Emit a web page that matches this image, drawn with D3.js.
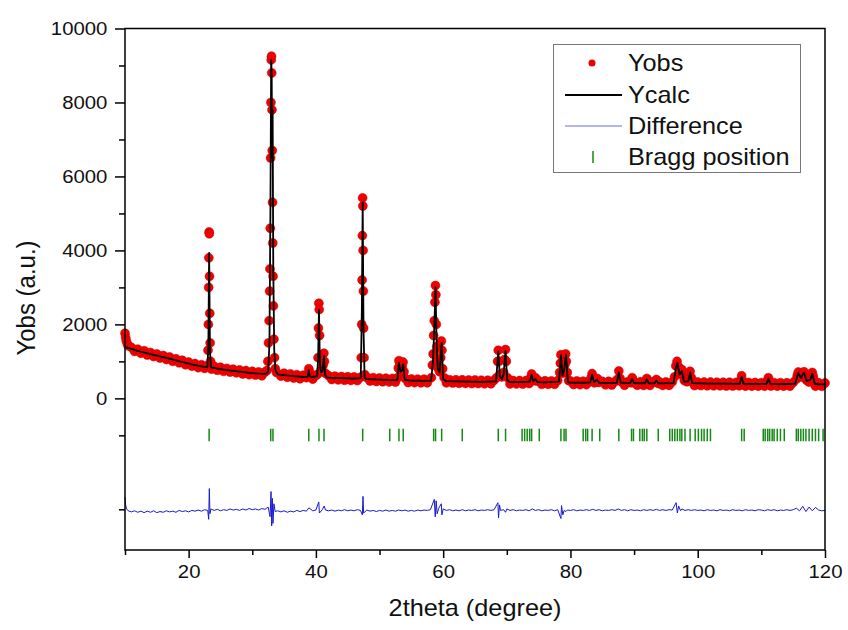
<!DOCTYPE html>
<html>
<head>
<meta charset="utf-8">
<script src="https://cdn.jsdelivr.net/npm/d3@7"></script>
<style>
  body { margin: 0; background: #fff; }
  svg text { font-family: "Liberation Sans", Arial, sans-serif; fill: #111; }
</style>
</head>
<body>
<svg width="848" height="630"></svg>
<script>
// observed intensity, [2theta, counts]
var yObs = [
  [10,1760],[10.1,1650],[10.2,1560],[10.35,1480],[10.5,1420],[11,1380],[11.5,1270],[12,1330],[12.5,1220],[13,1290],
  [13.5,1170],[14,1240],[14.5,1130],[15,1200],[15.5,1090],[16,1160],[16.5,1050],[17,1120],[17.5,1000],[18,1070],
  [18.5,960],[19,1030],[19.5,910],[20,980],[20.5,870],[21,940],[21.5,830],[22,910],[22.5,810],
  [22.9,880],[23.05,1300],[23.1,2000],[23.15,3000],[23.18,3800],[23.22,4500],[23.25,4450],[23.28,3300],[23.32,2300],[23.38,1500],[23.45,1000],[23.6,790],
  [24,870],[24.5,760],[25,840],[25.5,730],[26,810],[26.5,710],[27,790],[27.5,690],[28,770],[28.5,660],[29,750],[29.5,640],
  [30,730],[30.5,630],[31,715],[31.5,610],[32,710],
  [32.3,750],[32.45,1000],[32.55,1500],[32.65,2100],[32.72,2900],[32.78,3500],[32.83,4600],[32.88,6500],[32.93,8000],[32.98,9150],
  [33.02,9250],[33.06,8800],[33.1,7800],[33.14,6700],[33.18,5300],[33.22,4200],[33.27,3300],[33.32,2500],[33.4,1600],[33.5,1100],[33.62,800],[33.8,700],
  [34.5,600],[35,680],[35.5,570],[36,660],[36.5,550],[37,640],[37.5,530],[38,625],[38.5,560],
  [38.75,650],[38.88,800],[39.0,720],[39.5,520],[40,620],[40.2,640],
  [40.33,1100],[40.4,1900],[40.46,2570],[40.52,2400],[40.58,1700],[40.66,1100],[40.8,760],[41.0,720],[41.15,900],[41.25,1220],[41.35,1000],[41.5,680],
  [42,610],[42.5,510],[43,600],[43.5,500],[44,590],[44.5,490],[45,585],[45.5,485],[46,580],[46.5,480],[47,570],
  [47.12,1100],[47.2,2000],[47.26,3200],[47.3,4400],[47.34,5420],[47.38,5200],[47.42,4000],[47.46,2900],[47.5,1900],[47.57,1100],[47.7,640],
  [48,565],[48.5,470],[49,560],[49.5,455],[50,550],[50.5,450],[51,545],[51.5,445],[52,540],[52.5,440],
  [52.85,560],[52.95,820],[53.05,1020],[53.2,900],[53.35,720],[53.55,860],[53.7,980],[53.85,720],[54.0,540],
  [54.5,430],[55,525],[55.5,425],[56,520],[56.5,420],[57,520],[57.5,420],
  [58.15,560],[58.3,900],[58.42,1200],[58.5,1700],[58.6,2100],[58.7,2600],[58.78,3050],[58.85,2800],[58.92,2000],[59.0,1400],
  [59.1,1000],[59.25,800],[59.45,720],[59.62,1100],[59.72,1550],[59.8,1300],[59.92,800],[60.15,560],
  [60.5,420],[61,505],[61.5,415],[62,500],[62.5,410],[63,500],[63.5,405],[64,495],[64.5,400],[65,495],[65.5,400],
  [66,490],[66.5,395],[67,490],[67.5,395],[68,490],
  [68.4,560],[68.55,1000],[68.66,1300],[68.78,1000],[68.95,650],[69.2,580],[69.5,700],[69.65,1050],[69.8,1320],[69.92,1000],[70.1,560],
  [70.5,390],[71,480],[71.5,390],[72,480],[72.5,385],[73,480],[73.5,400],
  [73.75,560],[73.9,660],[74.05,540],[74.3,480],[74.5,560],[74.7,470],
  [75,475],[75.5,380],[76,475],[76.5,380],[77,470],[77.5,380],[78,480],
  [78.3,700],[78.42,950],[78.5,1180],[78.6,950],[78.75,680],[78.95,720],[79.1,900],[79.25,1200],[79.35,1000],[79.5,700],[79.7,480],
  [80,470],[80.5,375],[81,470],[81.5,370],[82,465],[82.5,370],[83,470],
  [83.25,560],[83.4,670],[83.55,540],[83.75,420],[84,470],[84.2,540],[84.4,430],
  [85,460],[85.5,365],[86,460],[86.5,360],[87,455],[87.4,520],[87.6,740],[87.8,540],[88,450],[88.5,355],
  [89,450],[89.5,420],[89.7,560],[89.9,430],[90,455],[90.5,355],[91,450],[91.5,350],[92,540],[92.2,470],
  [92.5,350],[93,445],[93.5,510],[93.8,400],[94,445],[94.5,350],[95,445],[95.5,350],[96,445],
  [96.35,580],[96.55,880],[96.75,1000],[96.95,860],[97.15,680],[97.35,700],[97.5,780],[97.7,600],[97.9,480],[98.3,450],
  [98.6,620],[98.8,730],[99.0,560],[99.3,420],
  [99.5,345],[100,440],[100.5,345],[101,440],[101.5,340],[102,440],[102.5,340],[103,435],[103.5,340],[104,435],
  [104.5,335],[105,435],[105.5,335],[106,430],[106.5,340],
  [106.75,500],[106.9,610],[107.05,480],[107.5,330],[108,430],[108.5,330],[109,430],[109.5,330],[110,425],[110.5,330],
  [110.95,480],[111.1,560],[111.25,470],[111.5,335],[112,425],[112.5,330],[113,425],[113.5,330],[114,420],[114.5,330],[115,430],
  [115.5,520],[115.65,620],[115.8,710],[115.95,640],[116.1,600],[116.3,580],[116.5,640],[116.7,720],[116.85,620],[117.05,500],
  [117.3,470],[117.5,440],[117.7,560],[117.85,650],[118.0,700],[118.15,600],[118.35,470],
  [118.5,330],[119,420],[119.5,325],[120,415]
];

// calculated profile, [2theta, counts]
var yCalc = [
  [10,1390],[11,1335],[12,1285],[13,1240],[14,1196],[15,1155],[16,1115],[17,1073],[18,1028],[19,983],[20,938],[21,896],[22,866],
  [22.95,845],[23.1,1400],[23.22,3930],[23.35,1300],[23.5,835],[24,822],[25,790],[26,766],[27,744],[28,722],[29,700],[30,680],
  [31,668],[32,660],[32.5,720],[32.7,1500],[32.85,5000],[32.97,9150],[33.05,8800],[33.12,6500],[33.2,7800],[33.3,3500],[33.45,1300],
  [33.65,760],[34,650],[35,628],[36,610],[37,592],[38,577],[38.7,590],[38.88,760],[39.05,590],[39.5,578],[40.2,600],[40.35,1100],
  [40.48,2400],[40.62,1000],[40.8,700],[41.05,720],[41.27,1150],[41.45,640],[41.7,568],[42,562],[43,555],[44,547],[45,540],[46,533],
  [47.05,545],[47.22,2400],[47.35,5300],[47.48,1900],[47.65,560],[48,519],[49,512],[50,505],[51,500],[52,495],[52.8,500],[53.05,960],
  [53.3,720],[53.55,760],[53.72,920],[53.95,500],[55,480],[56,477],[57,474],[58.1,480],[58.4,1000],[58.6,1900],[58.8,3000],[58.95,1600],
  [59.15,800],[59.45,700],[59.76,1500],[60.0,520],[60.5,465],[62,459],[64,453],[66,448],[68.3,460],[68.66,1270],[68.9,600],[69.2,520],
  [69.5,650],[69.8,1290],[70.05,500],[70.4,440],[72,437],[73.6,450],[73.9,630],[74.15,470],[74.5,520],[74.8,440],[76,431],[78.2,450],
  [78.5,1160],[78.75,620],[79.0,750],[79.3,1180],[79.6,440],[80,425],[82,422],[83.1,430],[83.4,640],[83.7,440],[84.2,500],[84.5,422],
  [86,418],[87.3,420],[87.6,710],[87.9,420],[89.4,412],[89.7,520],[90,412],[91.7,408],[92.0,510],[92.3,407],[93.2,405],[93.5,480],
  [93.8,404],[96.2,410],[96.55,820],[96.8,960],[97.15,640],[97.5,740],[97.85,450],[98.5,460],[98.8,700],[99.1,410],[102,398],[104,396],
  [106.6,394],[106.9,580],[107.2,393],[109,391],[110.8,390],[111.1,530],[111.4,389],[113,387],[115.3,395],[115.8,680],[116.2,560],
  [116.7,690],[117.1,470],[117.7,500],[118.0,670],[118.4,395],[119,381],[120,380]
];

// Yobs - Ycalc, [2theta, counts], drawn around diffOffset
var diffOffset = -3000;
var diff = [
  [10,330],[10.1,120],[10.25,10],[10.5,-40],[11,-70],[11.5,-40],[12,-80],[12.5,-50],[13,-90],[13.5,-50],[14,-80],[14.5,-40],
  [15,-90],[15.5,-60],[16,-80],[16.5,-40],[17,-70],[17.5,-50],[18,-80],[18.5,-30],[19,-60],[19.5,-40],[20,-70],[20.5,-30],
  [21,-50],[21.5,-20],[22,-50],[22.5,-10],[23,-30],[23.15,-270],[23.25,560],[23.35,-120],[23.5,10],[24,-30],[24.5,0],[25,-40],
  [25.5,-10],[26,-30],[26.5,10],[27,-20],[27.5,0],[28,-30],[28.5,10],[29,-20],[29.5,20],[30,-10],[30.5,10],[31,-20],[31.5,20],
  [32,0],[32.5,60],[32.8,-200],[32.95,480],[33.05,-450],[33.15,300],[33.25,-380],[33.4,150],[33.6,-60],[34,-40],[34.5,-70],
  [35,-40],[35.5,-80],[36,-50],[36.5,-70],[37,-30],[37.5,-60],[38,-30],[38.5,-50],[38.9,40],[39.5,-40],[40,-20],[40.45,200],
  [40.55,-100],[41,-10],[41.3,90],[41.5,-20],[42,-40],[42.5,-20],[43,-50],[43.5,-20],[44,-40],[44.5,-10],[45,-40],[45.5,-20],
  [46,-40],[46.5,-10],[47,-30],[47.3,-150],[47.4,350],[47.5,-100],[48,-20],[48.5,-50],[49,-30],[49.5,-60],[50,-30],[50.5,-50],
  [51,-20],[51.5,-50],[52,-30],[52.5,-50],[53,-20],[53.5,-40],[54,-20],[54.5,-50],[55,-30],[55.5,-50],[56,-20],[56.5,-40],
  [57,-20],[57.5,-30],[58,-10],[58.6,270],[58.75,-200],[58.9,230],[59.05,-120],[59.3,30],[59.7,150],[59.8,-150],[60,10],
  [60.5,-30],[61,-10],[61.5,-40],[62,-20],[62.5,-40],[63,-10],[63.5,-40],[64,-20],[64.5,-30],[65,-10],[65.5,-40],[66,-20],
  [66.5,-30],[67,-10],[67.5,-30],[68,-10],[68.6,180],[68.7,-230],[68.85,120],[69,-30],[69.5,-10],[69.8,-80],[70,10],[70.5,-30],
  [71,-10],[71.5,-40],[72,-20],[72.5,-30],[73,-10],[73.5,-40],[74,10],[74.5,-30],[75,-10],[75.5,-40],[76,-20],[76.5,-30],
  [77,-10],[77.5,-40],[78,-10],[78.5,-250],[78.6,100],[78.8,-150],[79,-30],[79.3,-60],[79.5,-20],[80,-30],[80.5,-10],[81,-40],
  [81.5,-20],[82,-30],[82.5,-10],[83,-30],[83.5,0],[84,-30],[84.5,-10],[85,-40],[85.5,-20],[86,-30],[86.5,-10],[87,-30],
  [87.5,10],[88,-30],[88.5,-10],[89,-40],[89.5,-10],[90,-30],[90.5,-20],[91,-40],[91.5,-10],[92,-30],[92.5,-10],[93,-30],
  [93.5,0],[94,-30],[94.5,-10],[95,-30],[95.5,-10],[96,-20],[96.6,180],[96.8,-100],[97,90],[97.3,-40],[97.5,10],[98,-30],
  [98.5,-10],[99,-30],[99.5,-10],[100,-30],[100.5,-20],[101,-40],[101.5,-10],[102,-30],[102.5,-20],[103,-40],[103.5,-10],
  [104,-30],[104.5,-20],[105,-40],[105.5,-10],[106,-30],[106.5,-20],[107,-40],[107.5,-10],[108,-30],[108.5,-20],[109,-40],
  [109.5,-10],[110,-20],[110.5,-40],[111,-10],[111.5,-30],[112,-10],[112.5,-40],[113,-20],[113.5,-30],[114,-10],[114.5,-30],
  [115,-10],[115.5,30],[116,-40],[116.5,80],[117,-60],[117.5,60],[118,-40],[118.5,50],[119,-20],[119.5,-40],[120,-30]
];

// reflection positions (2theta)
var braggPos = [
  23.22, 32.9, 33.25, 38.88, 40.48, 41.27, 47.35, 51.6, 53.05, 53.72, 58.5, 58.8, 59.76, 63.0,
  68.66, 69.8, 72.4, 72.8, 73.2, 73.6, 73.9, 75.1, 78.5, 79.0, 79.3, 82.0, 82.4, 82.7, 83.4, 84.6,
  87.6, 89.6, 89.9, 90.9, 91.3, 91.6, 92.0, 93.8, 95.6, 96.0, 96.4, 96.8, 97.2, 97.5, 98.0, 98.8,
  99.6, 100.1, 100.6, 101.0, 101.5, 102.0, 106.9, 107.3, 110.3, 110.6, 111.0, 111.3, 111.7, 112.0,
  112.5, 113.0, 113.6, 115.5, 115.8, 116.2, 116.6, 117.0, 117.5, 118.0, 118.5, 119.0, 119.7
];
var braggTop = -820, braggBottom = -1160;

var xMajor = [20, 40, 60, 80, 100, 120];
var xMinor = [10, 30, 50, 70, 90, 110];
var yMajor = [0, 2000, 4000, 6000, 8000, 10000];
var yMinor = [-3000, -1000, 1000, 3000, 5000, 7000, 9000];

var legendItems = ["Yobs", "Ycalc", "Difference", "Bragg position"];

function draw() {
    var svg = d3.select("svg");
    var pL = 125, pR = 825, pT = 28.5, pB = 550;
    var stretch = "scale(1.1,1)";

    var x = d3.scaleLinear().domain([10, 120]).range([pL, pR]);
    var y = d3.scaleLinear().domain([-4100, 10000]).range([pB, pT]);

    // observed points
    svg.append("g").selectAll("circle")
        .data(yObs)
        .enter().append("circle")
        .attr("cx", function(d) { return x(d[0]); })
        .attr("cy", function(d) { return y(d[1]); })
        .attr("r", 4.5)
        .style("fill", "#f00000")
        .style("stroke", "#c00000")
        .style("stroke-width", 0.5);

    // calculated line
    var line = d3.line()
        .x(function(d) { return x(d[0]); })
        .y(function(d) { return y(d[1]); });

    svg.append("path")
        .datum(yCalc)
        .attr("d", line)
        .style("fill", "none")
        .style("stroke", "#000")
        .style("stroke-width", 1.8)
        .style("stroke-linejoin", "round");

    // difference
    var diffLine = d3.line()
        .x(function(d) { return x(d[0]); })
        .y(function(d) { return y(diffOffset + d[1]); });

    svg.append("path")
        .datum(diff)
        .attr("d", diffLine)
        .style("fill", "none")
        .style("stroke", "#1a1acc")
        .style("stroke-width", 1);

    // bragg ticks
    svg.append("g").selectAll("line")
        .data(braggPos)
        .enter().append("line")
        .attr("x1", function(d) { return x(d); })
        .attr("x2", function(d) { return x(d); })
        .attr("y1", y(braggTop))
        .attr("y2", y(braggBottom))
        .style("stroke", "#138a13")
        .style("stroke-width", 1.5);

    // axes
    function styleAxis(g) {
        g.select(".domain").remove();
        g.selectAll("line").style("stroke", "#000").style("stroke-width", 1.5);
        g.selectAll("text").style("font-size", "18.5px").style("fill", "#111").attr("transform", stretch);
    }

    svg.append("g")
        .attr("transform", "translate(0," + pB + ")")
        .call(d3.axisBottom(x).tickValues(xMajor).tickSize(8).tickPadding(7).tickFormat(d3.format("d")))
        .call(styleAxis);
    svg.append("g")
        .attr("transform", "translate(0," + pB + ")")
        .call(d3.axisBottom(x).tickValues(xMinor).tickSize(5).tickFormat(""))
        .call(styleAxis);
    svg.append("g")
        .attr("transform", "translate(" + pL + ",0)")
        .call(d3.axisLeft(y).tickValues(yMajor).tickSize(10).tickPadding(6).tickFormat(d3.format("d")))
        .call(styleAxis);
    svg.append("g")
        .attr("transform", "translate(" + pL + ",0)")
        .call(d3.axisLeft(y).tickValues(yMinor).tickSize(6).tickFormat(""))
        .call(styleAxis);

    svg.append("rect")
        .attr("x", pL).attr("y", pT)
        .attr("width", pR - pL).attr("height", pB - pT)
        .style("fill", "none").style("stroke", "#000").style("stroke-width", 1.5);

    // axis titles
    svg.append("text")
        .attr("transform", "translate(" + (pL + pR) / 2 + ",616) " + stretch)
        .attr("text-anchor", "middle")
        .style("font-size", "23px")
        .text("2theta (degree)");

    svg.append("text")
        .attr("transform", "translate(35,298) " + stretch + " rotate(-90)")
        .attr("text-anchor", "middle")
        .style("font-size", "24px")
        .text("Yobs (a.u.)");

    // legend
    var lg = svg.append("g");
    lg.append("rect")
        .attr("x", 553.5).attr("y", 44.5)
        .attr("width", 247).attr("height", 128)
        .style("fill", "#fff").style("stroke", "#777").style("stroke-width", 1);

    var rowY = [63, 95, 126, 157];
    lg.append("circle").attr("cx", 592).attr("cy", rowY[0]).attr("r", 3.5).style("fill", "#ee0000");
    lg.append("line").attr("x1", 565).attr("x2", 622).attr("y1", rowY[1]).attr("y2", rowY[1])
        .style("stroke", "#000").style("stroke-width", 1.8);
    lg.append("line").attr("x1", 565).attr("x2", 622).attr("y1", rowY[2]).attr("y2", rowY[2])
        .style("stroke", "#6a6ae0").style("stroke-width", 1);
    lg.append("line").attr("x1", 593).attr("x2", 593).attr("y1", rowY[3] - 6).attr("y2", rowY[3] + 6)
        .style("stroke", "#138a13").style("stroke-width", 1.5);

    lg.selectAll("text.leg")
        .data(legendItems)
        .enter().append("text")
        .attr("class", "leg")
        .attr("transform", function(d, i) { return "translate(628," + (rowY[i] + 8.3) + ") " + stretch; })
        .style("font-size", "23px")
        .text(function(d) { return d; });
}

draw();
</script>
</body>
</html>
